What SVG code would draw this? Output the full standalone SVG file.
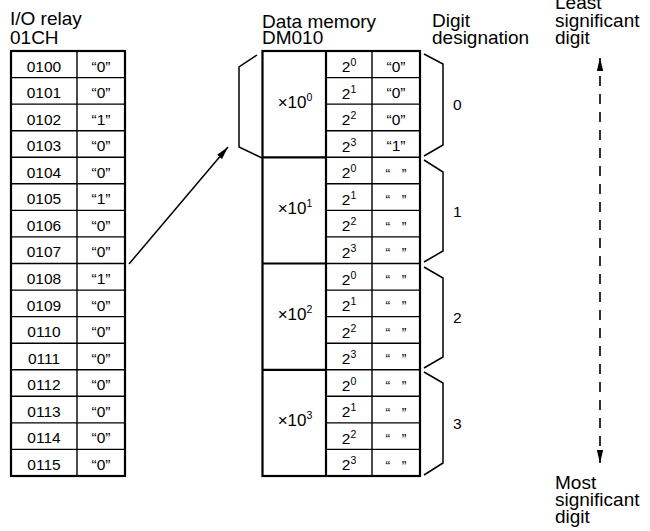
<svg xmlns="http://www.w3.org/2000/svg" width="650" height="531" viewBox="0 0 650 531">
<style>
text{font-family:"Liberation Sans",Arial,sans-serif;fill:#000}
.h{font-size:19px}
.c{font-size:15.5px;text-anchor:middle}
.m{font-size:17px;text-anchor:middle}
.q{font-size:14px;text-anchor:middle}
.d{font-size:15.5px}
.o{fill:none;stroke:#000;stroke-width:2.2}
.i{fill:none;stroke:#000;stroke-width:1.4}
.b{fill:none;stroke:#000;stroke-width:1.5;stroke-linejoin:miter}
.s{font-size:10.5px}
</style>
<defs>
<marker id="ah" markerUnits="userSpaceOnUse" markerWidth="13" markerHeight="8" refX="13" refY="4" orient="auto-start-reverse">
<path d="M0,0.8 L13,4 L0,7.2 Z" fill="#000"/>
</marker>
</defs>
<rect width="650" height="531" fill="#fff"/>

<g id="io-relay">
<text class="h" x="10" y="25">I/O relay<tspan x="10" dy="18.5">01CH</tspan></text>
<rect class="o" x="11" y="51" width="114" height="425"/>
<path class="i" d="M77,51V476 M11,77.6H125 M11,104.1H125 M11,130.7H125 M11,157.3H125 M11,183.8H125 M11,210.4H125 M11,236.9H125 M11,263.5H125 M11,290.1H125 M11,316.6H125 M11,343.2H125 M11,369.8H125 M11,396.3H125 M11,422.9H125 M11,449.4H125"/>
<text class="c" x="44" y="71.5">0100</text><text class="c" x="101" y="71.5">“0”</text>
<text class="c" x="44" y="98.1">0101</text><text class="c" x="101" y="98.1">“0”</text>
<text class="c" x="44" y="124.6">0102</text><text class="c" x="101" y="124.6">“1”</text>
<text class="c" x="44" y="151.2">0103</text><text class="c" x="101" y="151.2">“0”</text>
<text class="c" x="44" y="177.8">0104</text><text class="c" x="101" y="177.8">“0”</text>
<text class="c" x="44" y="204.3">0105</text><text class="c" x="101" y="204.3">“1”</text>
<text class="c" x="44" y="230.9">0106</text><text class="c" x="101" y="230.9">“0”</text>
<text class="c" x="44" y="257.4">0107</text><text class="c" x="101" y="257.4">“0”</text>
<text class="c" x="44" y="284">0108</text><text class="c" x="101" y="284">“1”</text>
<text class="c" x="44" y="310.6">0109</text><text class="c" x="101" y="310.6">“0”</text>
<text class="c" x="44" y="337.1">0110</text><text class="c" x="101" y="337.1">“0”</text>
<text class="c" x="44" y="363.7">0111</text><text class="c" x="101" y="363.7">“0”</text>
<text class="c" x="44" y="390.3">0112</text><text class="c" x="101" y="390.3">“0”</text>
<text class="c" x="44" y="416.8">0113</text><text class="c" x="101" y="416.8">“0”</text>
<text class="c" x="44" y="443.4">0114</text><text class="c" x="101" y="443.4">“0”</text>
<text class="c" x="44" y="469.9">0115</text><text class="c" x="101" y="469.9">“0”</text>
</g>

<g id="data-memory">
<text class="h" x="262" y="27.5">Data memory<tspan x="262" dy="16.5">DM010</tspan></text>
<rect class="o" x="262.5" y="51" width="157.5" height="425"/>
<path class="o" d="M326,51V476 M262.5,157.3H326 M262.5,263.5H326 M262.5,369.8H326"/>
<path class="i" d="M372,51V476 M326,77.6H420 M326,104.1H420 M326,130.7H420 M326,157.3H420 M326,183.8H420 M326,210.4H420 M326,236.9H420 M326,263.5H420 M326,290.1H420 M326,316.6H420 M326,343.2H420 M326,369.8H420 M326,396.3H420 M326,422.9H420 M326,449.4H420"/>
<text class="m" x="295" y="107.6">×10<tspan class="s" dy="-7">0</tspan></text>
<text class="m" x="295" y="213.9">×10<tspan class="s" dy="-7">1</tspan></text>
<text class="m" x="295" y="320.1">×10<tspan class="s" dy="-7">2</tspan></text>
<text class="m" x="295" y="426.4">×10<tspan class="s" dy="-7">3</tspan></text>
<text class="c" x="349" y="72">2<tspan class="s" dy="-6">0</tspan></text>
<text class="c" x="349" y="98.6">2<tspan class="s" dy="-6">1</tspan></text>
<text class="c" x="349" y="125.1">2<tspan class="s" dy="-6">2</tspan></text>
<text class="c" x="349" y="151.7">2<tspan class="s" dy="-6">3</tspan></text>
<text class="c" x="349" y="178.3">2<tspan class="s" dy="-6">0</tspan></text>
<text class="c" x="349" y="204.8">2<tspan class="s" dy="-6">1</tspan></text>
<text class="c" x="349" y="231.4">2<tspan class="s" dy="-6">2</tspan></text>
<text class="c" x="349" y="257.9">2<tspan class="s" dy="-6">3</tspan></text>
<text class="c" x="349" y="284.5">2<tspan class="s" dy="-6">0</tspan></text>
<text class="c" x="349" y="311.1">2<tspan class="s" dy="-6">1</tspan></text>
<text class="c" x="349" y="337.6">2<tspan class="s" dy="-6">2</tspan></text>
<text class="c" x="349" y="364.2">2<tspan class="s" dy="-6">3</tspan></text>
<text class="c" x="349" y="390.8">2<tspan class="s" dy="-6">0</tspan></text>
<text class="c" x="349" y="417.3">2<tspan class="s" dy="-6">1</tspan></text>
<text class="c" x="349" y="443.9">2<tspan class="s" dy="-6">2</tspan></text>
<text class="c" x="349" y="470.4">2<tspan class="s" dy="-6">3</tspan></text>
<text class="c" x="396" y="71.5">“0”</text>
<text class="c" x="396" y="98.1">“0”</text>
<text class="c" x="396" y="124.6">“0”</text>
<text class="c" x="396" y="151.2">“1”</text>
<text class="q" x="396" y="178.5">“&#160;&#160;&#160;”</text>
<text class="q" x="396" y="205">“&#160;&#160;&#160;”</text>
<text class="q" x="396" y="231.6">“&#160;&#160;&#160;”</text>
<text class="q" x="396" y="258.2">“&#160;&#160;&#160;”</text>
<text class="q" x="396" y="284.7">“&#160;&#160;&#160;”</text>
<text class="q" x="396" y="311.3">“&#160;&#160;&#160;”</text>
<text class="q" x="396" y="337.8">“&#160;&#160;&#160;”</text>
<text class="q" x="396" y="364.4">“&#160;&#160;&#160;”</text>
<text class="q" x="396" y="391">“&#160;&#160;&#160;”</text>
<text class="q" x="396" y="417.5">“&#160;&#160;&#160;”</text>
<text class="q" x="396" y="444.1">“&#160;&#160;&#160;”</text>
<text class="q" x="396" y="470.6">“&#160;&#160;&#160;”</text>
</g>

<g id="digit-designation">
<text class="h" x="432" y="27">Digit<tspan x="432" dy="16.5">designation</tspan></text>
<path class="b" d="M424,54L443,64V145L424,156"/>
<path class="b" d="M424,160L443,172V251L424,262"/>
<path class="b" d="M424,267L443,278V357L424,368"/>
<path class="b" d="M424,372L443,383V463L424,475"/>
<text class="d" x="453" y="110">0</text>
<text class="d" x="453" y="216.5">1</text>
<text class="d" x="453" y="322.7">2</text>
<text class="d" x="453" y="428.5">3</text>
</g>

<g id="least-significant">
<text class="h" x="555" y="9">Least<tspan x="555" dy="17.5">significant</tspan><tspan x="555" dy="17">digit</tspan></text>
</g>

<g id="most-significant">
<text class="h" x="555" y="489">Most<tspan x="555" dy="17">significant</tspan><tspan x="555" dy="17">digit</tspan></text>
</g>

<g id="connectors">
<path class="b" d="M257,55L239,67V147L262,158"/>
<line x1="129" y1="264" x2="228" y2="147" stroke="#000" stroke-width="1.5" marker-end="url(#ah)"/>
<line x1="600" y1="58" x2="600" y2="463" stroke="#000" stroke-width="1.6" stroke-dasharray="10 8" marker-start="url(#ah)" marker-end="url(#ah)"/>
</g>
</svg>
